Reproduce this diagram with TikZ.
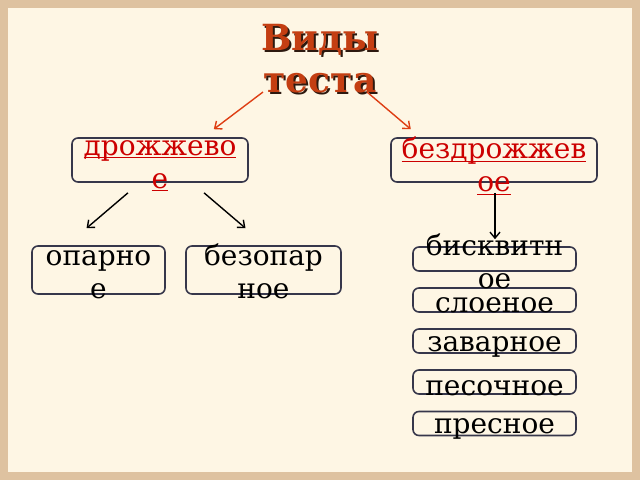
\documentclass[tikz,border=0pt]{standalone}
\usepackage{fontspec}
\setmainfont{DejaVu Serif}
\usetikzlibrary{arrows.meta}
\definecolor{frame}{RGB}{222,194,160}
\definecolor{paper}{RGB}{254,246,228}
\definecolor{brick}{RGB}{196,62,18}
\definecolor{shade}{RGB}{45,25,15}
\definecolor{ink}{RGB}{55,55,75}
\definecolor{redtext}{RGB}{204,0,0}
\definecolor{arrowred}{RGB}{222,62,20}
\newcommand\uword[1]{\setbox0\hbox{#1}\rlap{\rule[-3pt]{\wd0}{1.3pt}}\box0}

\begin{document}
\begin{tikzpicture}[x=1pt,y=-1pt]
		\tikzset{box/.style = {draw=ink, line width=1.6pt, rounded corners=6pt, inner sep=0pt},
			word/.style = {align=center, inner sep=0pt, font=\fontsize{28}{33}\selectfont},
			heading/.style = {align=center, inner sep=0pt, font=\fontsize{36}{42}\selectfont\bfseries},
			tip/.style = {-{Straight Barb[length=6pt,width=10pt]}, line width=1.4pt}}

		% background
		\fill[frame] (0,0) rectangle (640,480);
		\fill[paper] (8,8) rectangle (632,472);

		% title
		\node[heading, text=shade] (title_shadow) at (322,61) {Виды\\теста};
		\node[heading, text=brick] (title) at (320,59) {Виды\\теста};

		% boxes
		\node[box, minimum width=176pt, minimum height=44pt] (yeast) at (160,160) {};
		\node[box, minimum width=206pt, minimum height=44pt] (noyeast) at (494,160) {};
		\node[box, minimum width=133pt, minimum height=48pt] (sponge) at (98.5,270) {};
		\node[box, minimum width=155pt, minimum height=48pt] (nosponge) at (263.5,270) {};
		\node[box, minimum width=163pt, minimum height=24pt] (biscuit) at (494.5,259) {};
		\node[box, minimum width=163pt, minimum height=24pt] (puff) at (494.5,300) {};
		\node[box, minimum width=163pt, minimum height=24pt] (choux) at (494.5,341) {};
		\node[box, minimum width=163pt, minimum height=24pt] (short) at (494.5,382) {};
		\node[box, minimum width=163pt, minimum height=24pt] (plain) at (494.5,423.5) {};

		% texts
		\node[word, text=redtext] (yeast_text) at (160,166) {\uword{дрожжево}\\\uword{е}};
		\node[word, text=redtext] (noyeast_text) at (494,166) {\uword{бездрожжев}\\\uword{ое}};
		\node[word] (sponge_text) at (98.5,275) {опарно\\е};
		\node[word] (nosponge_text) at (263.5,271) {безопар\\ное};
		\node[word] (biscuit_text) at (494.5,261) {бисквитн\\ое};
		\node[word] (puff_text) at (494.5,305) {слоеное};
		\node[word] (choux_text) at (494.5,347) {заварное};
		\node[word] (short_text) at (494.5,388) {песочное};
		\node[word] (plain_text) at (494.5,429) {пресное};

		% arrows
		\draw[tip, arrowred] ([xshift=-57pt,yshift=-33pt]title.center) -- ([xshift=-35pt,yshift=8pt]yeast.north east);
		\draw[tip, arrowred] ([xshift=47pt,yshift=-33pt]title.center) -- ([xshift=-187pt,yshift=8pt]noyeast.north east);

		\draw[tip] ([xshift=-32pt,yshift=-10pt]yeast.south) -- ([xshift=-12pt,yshift=17pt]sponge.north);
		\draw[tip] ([xshift=44pt,yshift=-10pt]yeast.south) -- ([xshift=-18pt,yshift=17pt]nosponge.north);
		\draw[tip] ([xshift=1pt,yshift=-10pt]noyeast.south) -- ([xshift=0.5pt,yshift=7pt]biscuit.north);

	\end{tikzpicture}
\end{document}
